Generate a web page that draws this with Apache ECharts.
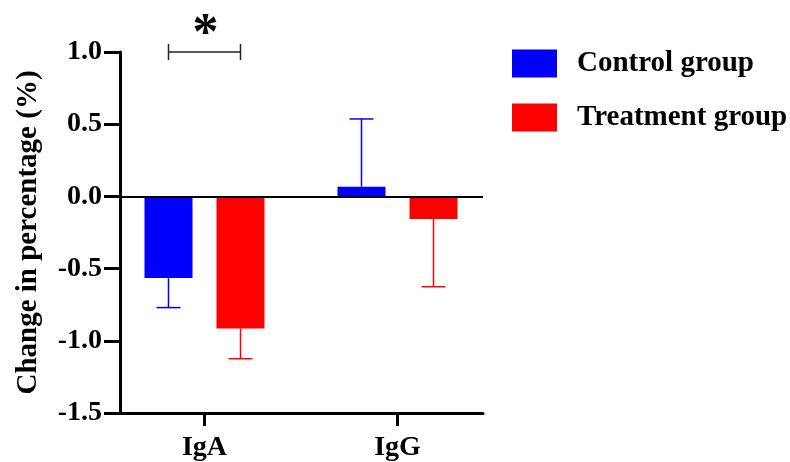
<!DOCTYPE html>
<html>
<head>
<meta charset="utf-8">
<script src="https://cdn.jsdelivr.net/npm/echarts@6/dist/echarts.min.js"></script>
<style>html,body{margin:0;padding:0;background:#fff;}#c{width:790px;height:462px;}</style>
</head>
<body>
<div id="c"></div>
<script>
const categories = ['IgA', 'IgG'];
const seriesNames = ['Control group', 'Treatment group'];
const controlValues = [-0.57, 0.065];
const treatmentValues = [-0.92, -0.16];
const controlErrors = [0.205, 0.47];
const treatmentErrors = [0.21, 0.47];
const yTicks = [-1.5, -1.0, -0.5, 0.0, 0.5, 1.0];
const sigCategory = [0];
const sigLevel = [1.0];
const sigText = ['*'];

const FONT = 'Liberation Serif';
const BAR_W = 48, GAP = 24;
const colors = ['#0000FF', '#FF0000'];

const chart = echarts.init(document.getElementById('c'), null, {renderer: 'canvas'});

function errItem(seriesIdx, vals, errs) {
  return {
    type: 'custom', xAxisIndex: 1, yAxisIndex: 1, z: 1, silent: true,
    data: vals.map((v, i) => [i, v, errs[i]]),
    renderItem: function (params, api) {
      const ci = api.value(0), v = api.value(1), e = api.value(2);
      const end = v >= 0 ? v + e : v - e;
      const c = api.coord([ci, v]);
      const c2 = api.coord([ci, end]);
      const off = (seriesIdx === 0 ? -1 : 1) * (BAR_W + GAP) / 2;
      const x = c[0] + off;
      const half = BAR_W / 4;
      const st = {stroke: colors[seriesIdx], lineWidth: 1.5};
      return {type: 'group', children: [
        {type: 'line', shape: {x1: x, y1: c[1], x2: x, y2: c2[1]}, style: st},
        {type: 'line', shape: {x1: x - half, y1: c2[1], x2: x + half, y2: c2[1]}, style: st}
      ]};
    }
  };
}

const option = {
  animation: false,
  backgroundColor: '#fff',
  legend: {
    orient: 'vertical', left: 512, top: 49, padding: 0,
    itemWidth: 45, itemHeight: 28, itemGap: 25, icon: 'rect',
    data: seriesNames,
    textStyle: {fontFamily: FONT, fontWeight: 'bold', fontSize: 29, color: '#000', lineHeight: 28, padding: [0, 0, 0, 15]}
  },
  grid: [
    {left: 120, top: 52, width: 363, bottom: 49},
    {left: 108, top: 52, width: 386, bottom: 49}
  ],
  xAxis: [
    {type: 'category', gridIndex: 0, data: categories,
     axisLine: {show: true, onZero: false, lineStyle: {color: '#000', width: 3}},
     axisTick: {show: false}, axisLabel: {show: false}, splitLine: {show: false}},
    {type: 'category', gridIndex: 1, data: categories,
     axisLine: {show: false, onZero: false},
     axisTick: {show: true, alignWithLabel: true, length: 14, lineStyle: {color: '#000', width: 3}},
     axisLabel: {fontFamily: FONT, fontWeight: 'bold', fontSize: 28, color: '#000', margin: 22}}
  ],
  yAxis: [
    {type: 'value', gridIndex: 0, min: yTicks[0], max: yTicks[yTicks.length - 1], interval: 0.5,
     axisLine: {show: true, lineStyle: {color: '#000', width: 3}},
     axisTick: {show: true, length: 16, lineStyle: {color: '#000', width: 3}},
     axisLabel: {fontFamily: FONT, fontWeight: 'bold', fontSize: 28, color: '#000', margin: 18,
                 formatter: v => v.toFixed(1)},
     splitLine: {show: false},
     name: 'Change in percentage (%)', nameLocation: 'middle', nameGap: 77,
     nameTextStyle: {fontFamily: FONT, fontWeight: 'bold', fontSize: 29, color: '#000'}},
    {type: 'value', gridIndex: 1, min: yTicks[0], max: yTicks[yTicks.length - 1], interval: 0.5, show: false}
  ],
  series: [
    {name: seriesNames[0], type: 'bar', xAxisIndex: 1, yAxisIndex: 1, data: controlValues,
     barWidth: BAR_W, barGap: (GAP / BAR_W * 100) + '%', itemStyle: {color: colors[0]}, z: 2},
    {name: seriesNames[1], type: 'bar', xAxisIndex: 1, yAxisIndex: 1, data: treatmentValues,
     barWidth: BAR_W, barGap: (GAP / BAR_W * 100) + '%', itemStyle: {color: colors[1]}, z: 2},
    errItem(0, controlValues, controlErrors),
    errItem(1, treatmentValues, treatmentErrors),
    {type: 'line', xAxisIndex: 0, yAxisIndex: 0, data: [], silent: true,
     markLine: {silent: true, symbol: 'none', label: {show: false},
                lineStyle: {color: '#000', width: 2, type: 'solid'}, data: [{yAxis: 0}]}},
    {type: 'custom', xAxisIndex: 1, yAxisIndex: 1, silent: true, z: 5,
     data: sigCategory.map((c, i) => [c, sigLevel[i], i]),
     renderItem: function (params, api) {
       const c = api.coord([api.value(0), api.value(1)]);
       const off = (BAR_W + GAP) / 2;
       const x1 = c[0] - off, x2 = c[0] + off, y = c[1];
       const st = {stroke: '#222', lineWidth: 1.5};
       return {type: 'group', children: [
         {type: 'line', shape: {x1: x1, y1: y, x2: x2, y2: y}, style: st},
         {type: 'line', shape: {x1: x1, y1: y - 8, x2: x1, y2: y + 8}, style: st},
         {type: 'line', shape: {x1: x2, y1: y - 8, x2: x2, y2: y + 8}, style: st},
         {type: 'text', x: c[0] + 1, y: y - 16, style: {text: sigText[api.value(2)], fill: '#000',
           font: 'bold 52px ' + FONT, align: 'center', verticalAlign: 'middle'}}
       ]};
     }}
  ]
};
chart.setOption(option);
</script>
</body>
</html>
